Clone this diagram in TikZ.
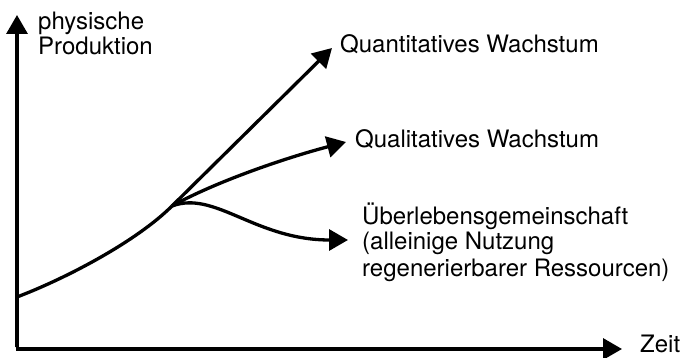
\documentclass[tikz,border=0pt]{standalone}
\usepackage{fontspec}
\setmainfont{TeX Gyre Heros}
\usepackage{tikz}
\usetikzlibrary{arrows.meta}

\begin{document}
\begin{tikzpicture}[x=1pt,y=-1pt,
        curve/.style={line width=3.3pt,-{Triangle[length=19pt,width=21pt]}},
        label/.style={anchor=base west,inner sep=0pt,align=left,font=\fontsize{24}{26}\selectfont}]
        \useasboundingbox (0,0) rectangle (681,358);
        \coordinate (origin) at (17,349);
        \coordinate (ytip) at (17,15);
        \coordinate (xtip) at (622,349);
        \coordinate (start) at (17,297);
        \coordinate (branch) at (172,206);
        \coordinate (quanttip) at (332,48);
        \coordinate (qualtip) at (346,142);
        \coordinate (survtip) at (348,240);
        % axes
        \draw[curve] ([yshift=1.5pt]origin) -- (ytip);
        \draw[curve] ([xshift=-1.5pt]origin) -- (xtip);
        % growth paths
        \draw[line width=3.3pt] (start) .. controls (67,278) and (137,241) .. (branch);
        \draw[curve] (branch) -- (quanttip);
        \draw[curve] (branch) .. controls (215,182) and (285,158) .. (qualtip);
        \draw[curve] (branch) .. controls (215,190) and (255,240) .. (survtip);
        \node[label] (ylabel) at (38,55) {physische\\[-1pt]Produktion};
        \node[label] (xlabel) at (640,353) {Zeit};
        \node[label] (quant) at (340,53) {Quantitatives Wachstum};
        \node[label] (qual) at (355,148) {Qualitatives Wachstum};
        \node[label] (surv) at (362,277) {Überlebensgemeinschaft\\[-1pt](alleinige Nutzung\\[1pt]regenerierbarer Ressourcen)};
    \end{tikzpicture}
\end{document}
